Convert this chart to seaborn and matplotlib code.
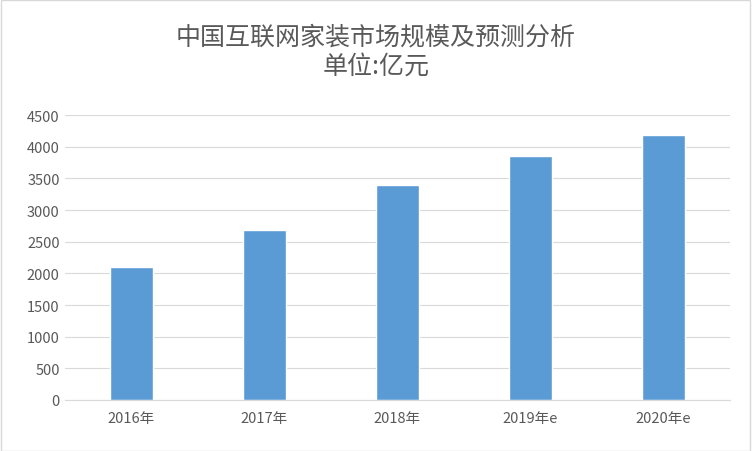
import matplotlib
matplotlib.use("Agg")
import matplotlib.pyplot as plt
import seaborn as sns
import pandas as pd

categories = ["2016年", "2017年", "2018年", "2019年e", "2020年e"]
values = [2100, 2680, 3400, 3860, 4190]

sns.set_style("white")
plt.rcParams['font.family'] = ['Noto Sans CJK SC', 'DejaVu Sans']

fig = plt.figure(figsize=(7.52, 4.52), dpi=100)
ax = fig.add_axes([0.086, 0.113, 0.885, 0.630])
df = pd.DataFrame({"cat": categories, "val": values})
sns.barplot(data=df, x="cat", y="val", color="#5B9BD5", saturation=1, width=0.32, ax=ax)
ax.set_ylim(0, 4500)
ax.set_yticks(range(0, 4501, 500))
ax.yaxis.grid(True, color="#D9D9D9", linewidth=0.8)
ax.set_axisbelow(True)
for s in ["top", "right", "left"]:
    ax.spines[s].set_visible(False)
ax.spines["bottom"].set_color("#D9D9D9")
ax.set_xlabel("")
ax.set_ylabel("")
ax.tick_params(axis="both", colors="#595959", labelsize=10.5, length=0)
ax.tick_params(axis="x", pad=8)
fig.text(0.5, 0.885, "中国互联网家装市场规模及预测分析\n单位:亿元", ha="center", va="center",
         fontsize=18, color="#595959", linespacing=1.15)
fig.patches.append(plt.Rectangle((0.001, 0.001), 0.997, 0.997, transform=fig.transFigure,
                                 fill=False, edgecolor="#D9D9D9", linewidth=1))
fig.savefig("out.png", dpi=100)
